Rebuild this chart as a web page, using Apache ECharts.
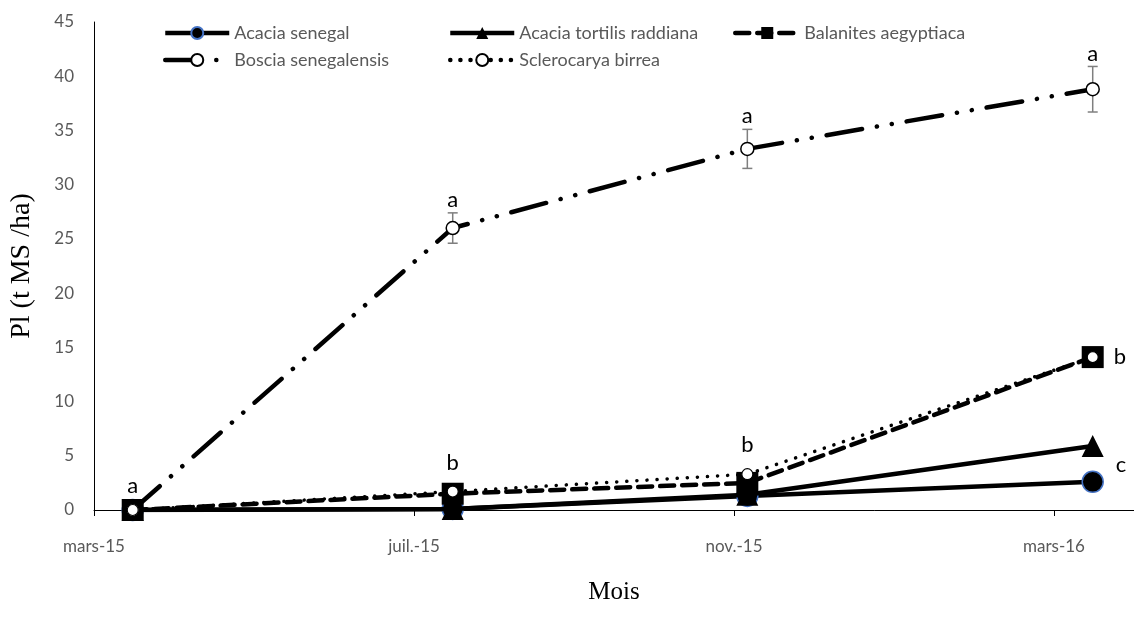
<!DOCTYPE html>
<html>
<head>
<meta charset="utf-8">
<script src="https://cdn.jsdelivr.net/npm/echarts@6/dist/echarts.min.js"></script>
<style>
  html, body { margin: 0; padding: 0; background: #fff; }
  #main { width: 1134px; height: 632px; }
</style>
</head>
<body>
<div id="main"></div>
<script>
// dates de mesure
var dates = ['2015-03-16', '2015-07-16', '2015-11-06', '2016-03-16'];
var tickLabels = ['mars-15', 'juil.-15', 'nov.-15', 'mars-16'];

// Pl (t MS /ha)
var acaciaSenegal = [0, 0.1, 1.3, 2.6];
var acaciaTortilis = [0, 0.1, 1.4, 5.9];
var balanites = [0, 1.5, 2.5, 14.1];
var boscia = [0, 26, 33.3, 38.8];
var bosciaErr = [0, 1.4, 1.8, 2.1];
var sclerocarya = [0, 1.7, 3.3, 14.1];

// lettres de significativite
var bosciaLetters = ['', 'a', 'a', 'a'];
var balanitesLetters = ['a', '', '', 'b'];
var scleroLetters = ['', 'b', 'b', ''];
var tortilisLetters = ['', '', '', 'c'];

var FONT = 'Lato';

// mois depuis mars 2015
function monthIndex(s) {
    var p = s.split('-').map(Number);
    var dim = new Date(p[0], p[1], 0).getDate();
    return (p[0] - 2015) * 12 + (p[1] - 3) + (p[2] - 1) / dim;
}
var xs = dates.map(monthIndex);

function pairs(vals) {
    return vals.map(function (v, i) { return [xs[i], v]; });
}

function withLetters(vals, letters, cfgFn) {
    return vals.map(function (v, i) {
        var item = { value: [xs[i], v] };
        if (letters[i]) {
            item.label = Object.assign({
                show: true,
                formatter: letters[i],
                color: '#000',
                fontFamily: FONT,
                fontSize: 22
            }, cfgFn(i));
        }
        return item;
    });
}

var chart = echarts.init(document.getElementById('main'));

var legendBase = {
    orient: 'vertical', top: 19, itemGap: 9,
    itemWidth: 64, itemHeight: 15,
    lineStyle: { width: 4.5 },
    textStyle: { color: '#595959', fontFamily: FONT, fontSize: 18 }
};

var option = {
    animation: false,
    backgroundColor: '#fff',
    grid: { left: 92, right: 0, top: 22, bottom: 122 },
    legend: [
        Object.assign({ left: 158, data: ['Acacia senegal', 'Boscia senegalensis'] }, legendBase),
        Object.assign({ left: 443, data: ['Acacia tortilis raddiana', 'Sclerocarya birrea'] }, legendBase),
        Object.assign({ left: 728, data: ['Balanites aegyptiaca'] }, legendBase)
    ],
    xAxis: {
        type: 'value',
        min: 0, max: 13, interval: 4,
        name: 'Mois',
        nameLocation: 'middle',
        nameGap: 70,
        nameTextStyle: { fontFamily: 'Liberation Serif', fontSize: 25, color: '#000' },
        axisLine: { lineStyle: { color: '#000', width: 1 } },
        axisTick: { show: true, length: 6, lineStyle: { color: '#000' } },
        splitLine: { show: false },
        axisLabel: {
            margin: 28, color: '#595959', fontFamily: FONT, fontSize: 17,
            showMaxLabel: false,
            formatter: function (v) {
                return v % 4 === 0 ? (tickLabels[v / 4] || '') : '';
            }
        }
    },
    yAxis: {
        type: 'value',
        min: 0, max: 45, interval: 5,
        name: 'Pl (t MS /ha)',
        nameLocation: 'middle',
        nameGap: 58,
        nameRotate: 90,
        nameTextStyle: { fontFamily: 'Liberation Serif', fontSize: 28, color: '#000' },
        axisLine: { show: true, lineStyle: { color: '#000', width: 1 } },
        axisTick: { show: false },
        splitLine: { show: false },
        axisLabel: { margin: 20, color: '#595959', fontFamily: FONT, fontSize: 17 }
    },
    series: [
        {
            name: 'Acacia senegal',
            type: 'line',
            data: pairs(acaciaSenegal),
            symbol: 'circle', symbolSize: 21,
            itemStyle: { color: '#000', borderColor: '#4472C4', borderWidth: 1.5 },
            lineStyle: { color: '#000', width: 4.5 },
            z: 2
        },
        {
            name: 'Acacia tortilis raddiana',
            type: 'line',
            data: withLetters(acaciaTortilis, tortilisLetters, function () {
                return { position: 'right', distance: 12, offset: [0, 19] };
            }),
            symbol: 'triangle', symbolSize: 22,
            itemStyle: { color: '#000' },
            lineStyle: { color: '#000', width: 4.5 },
            z: 3
        },
        {
            name: 'Balanites aegyptiaca',
            type: 'line',
            data: withLetters(balanites, balanitesLetters, function (i) {
                return i === 0 ? { position: 'top', distance: 2 } : { position: 'right', distance: 10 };
            }),
            symbol: 'rect', symbolSize: 22,
            itemStyle: { color: '#000' },
            lineStyle: { color: '#000', width: 4.5, type: [14, 8], cap: 'round' },
            z: 4
        },
        {
            name: 'Boscia senegalensis',
            type: 'line',
            data: pairs(boscia),
            symbol: 'circle', symbolSize: 13,
            showAllSymbol: true,
            itemStyle: { color: '#fff', borderColor: '#000', borderWidth: 1.5 },
            lineStyle: { color: '#000', width: 4.5, type: [36, 15, 0.1, 15, 0.1, 15], cap: 'round' },
            z: 5
        },
        {
            name: 'Sclerocarya birrea',
            type: 'line',
            data: withLetters(sclerocarya, scleroLetters, function () {
                return { position: 'top', distance: 12 };
            }),
            symbol: 'circle', symbolSize: 11,
            itemStyle: { color: '#fff', borderColor: '#000', borderWidth: 1.2 },
            lineStyle: { color: '#000', width: 3.5, type: [0.1, 10], cap: 'round' },
            z: 6
        },
        {
            // barres d'erreur Boscia
            name: 'err',
            type: 'custom',
            z: 1,
            data: boscia.map(function (v, i) { return [xs[i], v, bosciaErr[i]]; }),
            renderItem: function (params, api) {
                var e = api.value(2);
                var letter = bosciaLetters[params.dataIndex];
                if (!e) return;
                var top = api.coord([api.value(0), api.value(1) + e]);
                var bot = api.coord([api.value(0), api.value(1) - e]);
                var ls = { stroke: '#7f7f7f', lineWidth: 1.5 };
                return {
                    type: 'group',
                    children: [
                        { type: 'line', shape: { x1: top[0], y1: top[1], x2: bot[0], y2: bot[1] }, style: ls },
                        { type: 'line', shape: { x1: top[0] - 5, y1: top[1], x2: top[0] + 5, y2: top[1] }, style: ls },
                        { type: 'line', shape: { x1: bot[0] - 5, y1: bot[1], x2: bot[0] + 5, y2: bot[1] }, style: ls },
                        {
                            type: 'text', x: top[0], y: top[1] - 2,
                            style: {
                                text: letter, fill: '#000', font: '22px ' + FONT,
                                textAlign: 'center', textVerticalAlign: 'bottom'
                            }
                        }
                    ]
                };
            }
        }
    ]
};

option && chart.setOption(option);
</script>
</body>
</html>
